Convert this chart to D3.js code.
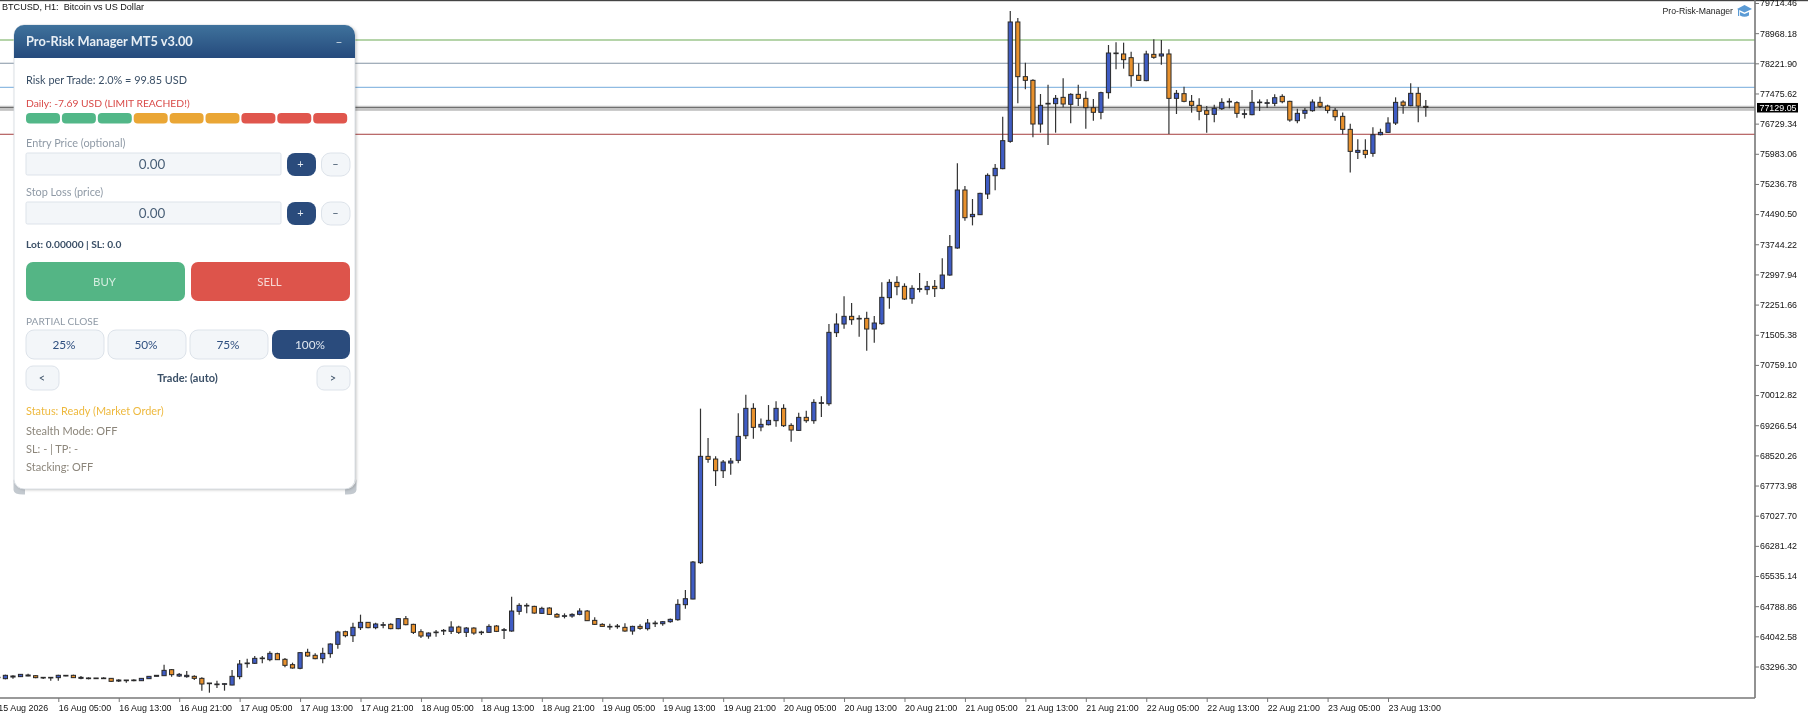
<!DOCTYPE html>
<html>
<head>
<meta charset="utf-8">
<script src="https://cdn.jsdelivr.net/npm/d3@7"></script>
<style>
html, body { margin: 0; padding: 0; background: #fff; overflow: hidden; }
svg { display: block; filter: blur(0.35px); }
text { font-family: Lato, sans-serif; }
.axis text { font-family: "Liberation Sans", sans-serif; font-size: 8.9px; fill: #111; }
.axis path, .axis line { stroke: #777; }
</style>
</head>
<body>
<svg id="chart" width="1808" height="714"></svg>
<script>
// hourly bars, one row per 8 bars (same spacing as the time labels)
var opens = [
  63020,62995,63036,63045,63061,63069,63012,63028,
  63020,63061,63078,63003,62995,63012,62995,63003,
  62937,62962,62945,62945,62995,63053,63069,63218,
  63061,63045,63053,63003,62888,62846,62855,62838,
  63045,63366,63375,63490,63465,63614,63474,63342,
  63251,63647,63573,63490,63614,63845,64158,64059,
  64257,64389,64257,64315,64340,64233,64479,64339,
  64157,64050,64133,64174,64166,64273,64141,64248,
  64149,64141,64298,64190,64174,64661,64793,64784,
  64611,64743,64586,64537,64545,64586,64669,64438,
  64339,64273,64281,64265,64174,64289,64232,64355,
  64355,64405,64454,64826,64966,65865,68496,68430,
  68141,68331,68397,69007,69684,69222,69280,69379,
  69684,69263,69139,69461,69379,69808,69799,71557,
  71771,71961,71895,71911,71647,71779,72423,72802,
  72703,72398,72629,72621,72703,72653,72983,73652,
  75087,74427,74476,74988,75441,75615,76291,79245,
  77892,77801,76720,77215,77223,77380,77207,77454,
  77355,77124,77009,77496,78461,78453,78362,77925,
  77793,78444,78403,78453,77355,77471,77281,77182,
  77050,76959,77100,77265,77248,76959,76951,77248,
  77231,77231,77404,77281,76802,76984,77050,77256,
  77165,77058,76909,76588,76018,76068,75994,76456,
  76513,76744,77264,77173,77479,77157
];
var highs = [
  63045,63094,63078,63110,63119,63078,63030,63030,
  63094,63086,63094,63061,63028,63012,63028,63012,
  62978,62962,62978,63012,63061,63078,63342,63234,
  63135,63185,63078,63028,62888,62945,62880,63210,
  63457,63490,63556,63556,63672,63638,63506,63391,
  63647,63738,63622,63762,63870,64183,64183,64381,
  64579,64398,64381,64398,64365,64497,64545,64355,
  64215,64141,64199,64223,64413,64306,64273,64265,
  64182,64339,64322,64248,65024,64859,64859,64801,
  64776,64760,64619,64611,64611,64735,64694,64512,
  64364,64355,64347,64364,64306,64339,64471,64430,
  64421,64487,64958,65189,65906,69677,68950,68496,
  68405,68455,69560,70022,69808,69436,69766,69857,
  69783,69313,69577,69626,69907,69981,71771,72035,
  72456,72291,71986,72076,71969,72802,72877,72951,
  72778,72728,73033,72835,72860,73396,73973,75747,
  75186,74864,75021,75499,75730,76902,79517,79344,
  78238,77826,77463,77694,77438,77850,77479,77694,
  77529,77339,77520,78675,78741,78733,78510,78222,
  78535,78816,78799,78568,77562,77644,77438,77355,
  77166,77199,77355,77355,77281,77083,77562,77330,
  77330,77454,77454,77297,77099,77116,77330,77396,
  77198,77116,77008,76728,76340,76340,76637,76604,
  76885,77380,77305,77726,77627,77314
];
var lows = [
  63010,62979,62995,63036,63053,63003,62987,62945,
  62945,63053,63012,62978,62978,62995,62995,62912,
  62912,62896,62929,62945,62987,63053,63061,63045,
  63036,63020,62962,62698,62648,62764,62698,62830,
  62978,63267,63358,63375,63424,63457,63276,63243,
  63226,63540,63474,63375,63515,63738,64018,63903,
  64200,64241,64216,64241,64216,64216,64314,64100,
  64001,63984,64034,64075,64100,64100,64025,64083,
  64075,64133,64149,63976,64157,64578,64611,64603,
  64595,64570,64504,64487,64504,64562,64421,64322,
  64273,64207,64232,64157,64083,64207,64190,64273,
  64306,64380,64430,64727,64958,65832,68339,67762,
  67960,68042,68323,68925,68933,69115,69263,69230,
  69222,68859,69123,69329,69304,69469,69750,71449,
  71656,71755,71458,71111,71309,71755,72151,72481,
  72365,72274,72555,72497,72439,72629,72967,73635,
  74328,74212,74468,74864,75078,75598,76258,77232,
  77578,76390,76506,76200,76506,77133,76737,77166,
  76605,76803,76836,77347,78073,78090,77644,77793,
  77776,78337,78189,76473,76968,77256,77001,76811,
  76506,76761,77067,77108,76877,76860,76935,77041,
  77116,77157,77231,76777,76736,76852,77025,77116,
  76984,76802,76464,75523,75853,75870,75911,76439,
  76505,76695,76975,77157,76761,76901
];
var closes = [
  63030,63078,63061,63102,63086,63020,63028,63012,
  63078,63078,63020,63028,63012,62995,63012,62929,
  62962,62945,62962,63003,63053,63078,63201,63094,
  63102,63078,63003,62863,62871,62863,62871,63053,
  63358,63383,63498,63506,63622,63465,63325,63259,
  63639,63556,63490,63622,63853,64150,64059,64266,
  64389,64257,64348,64332,64233,64480,64331,64141,
  64050,64124,64149,64190,64273,64141,64248,64124,
  64133,64289,64166,64207,64669,64809,64809,64619,
  64735,64586,64520,64553,64586,64669,64430,64339,
  64289,64289,64298,64174,64289,64240,64372,64372,
  64405,64463,64834,64974,65882,68497,68422,68141,
  68356,68380,68991,69684,69214,69288,69387,69684,
  69255,69148,69461,69379,69832,69824,71565,71771,
  71961,71878,71911,71647,71796,72431,72802,72695,
  72390,72654,72646,72703,72646,72983,73685,75087,
  74402,74484,75004,75450,75623,76308,79245,77892,
  77801,76720,77182,77232,77355,77215,77454,77355,
  77124,77009,77496,78477,78477,78312,77916,77801,
  78453,78370,78453,77355,77479,77281,77182,77034,
  76959,77108,77256,77281,76984,76976,77256,77264,
  77248,77371,77272,76819,76984,77058,77264,77157,
  77058,76901,76588,76043,76068,75969,76456,76513,
  76744,77256,77182,77479,77165,77129
];
var timeLabels = [
  '15 Aug 2026','16 Aug 05:00','16 Aug 13:00','16 Aug 21:00','17 Aug 05:00','17 Aug 13:00',
  '17 Aug 21:00','18 Aug 05:00','18 Aug 13:00','18 Aug 21:00','19 Aug 05:00','19 Aug 13:00',
  '19 Aug 21:00','20 Aug 05:00','20 Aug 13:00','20 Aug 21:00','21 Aug 05:00','21 Aug 13:00',
  '21 Aug 21:00','22 Aug 05:00','22 Aug 13:00','22 Aug 21:00','23 Aug 05:00','23 Aug 13:00'
];
var priceTicks = [
  79714.46,78968.18,78221.90,77475.62,76729.34,75983.06,75236.78,74490.50,
  73744.22,72997.94,72251.66,71505.38,70759.10,70012.82,69266.54,68520.26,
  67773.98,67027.70,66281.42,65535.14,64788.86,64042.58,63296.30
];
var levelPrices = [78799, 78222, 77629, 76466];
var levelColors = ['#9cc68c', '#8594a4', '#8fbbe2', '#a63f3f'];
var levelWidths = [1.5, 1.1, 1.3, 1];
var lastPrice = 77129.05;
var bandPrices = [77129, 77067];
var riskColors = ['#52b788','#52b788','#52b788','#eaa635','#eaa635','#eaa635','#e0564d','#e0564d','#e0564d'];
var partialLabels = ['25%', '50%', '75%', '100%'];

var W = 1808, H = 714, axisX = 1755, axisY = 698;
var svg = d3.select('#chart');

var x = d3.scaleLinear().domain([0, opens.length - 1]).range([-2.14, 1425.8]);
var y = d3.scaleLinear().domain([63296.30, 79714.46]).range([666.5, 3]);

// top border
svg.append('rect').attr('x', 0).attr('y', 0).attr('width', W).attr('height', 1.2).attr('fill', '#444');

// price levels
var lv = svg.append('g');
lv.append('rect').attr('x', 0).attr('width', axisX).attr('y', y(bandPrices[0]) - 2).attr('height', 5).attr('fill', '#e2e2e2');
lv.append('line').attr('x1', 0).attr('x2', axisX).attr('y1', y(bandPrices[0])).attr('y2', y(bandPrices[0])).attr('stroke', '#6f6f6f').attr('stroke-width', 1.3);
lv.append('line').attr('x1', 0).attr('x2', axisX).attr('y1', y(bandPrices[1])).attr('y2', y(bandPrices[1])).attr('stroke', '#a5a5a5').attr('stroke-width', 1);
lv.selectAll('.level').data(levelPrices).enter().append('line')
  .attr('class', 'level')
  .attr('x1', 0).attr('x2', axisX)
  .attr('y1', function(d){ return y(d); }).attr('y2', function(d){ return y(d); })
  .attr('stroke', function(d, i){ return levelColors[i]; })
  .attr('stroke-width', function(d, i){ return levelWidths[i]; });

// candles
var bars = svg.append('g').selectAll('g').data(d3.range(opens.length)).enter().append('g');
bars.append('line')
  .attr('x1', function(i){ return x(i); }).attr('x2', function(i){ return x(i); })
  .attr('y1', function(i){ return y(highs[i]); }).attr('y2', function(i){ return y(lows[i]); })
  .attr('stroke', '#333').attr('stroke-width', 1.2);
bars.append('rect')
  .attr('x', function(i){ return x(i) - 2.1; })
  .attr('width', 4.2)
  .attr('y', function(i){ return y(Math.max(opens[i], closes[i])); })
  .attr('height', function(i){ return Math.abs(y(opens[i]) - y(closes[i])); })
  .attr('fill', function(i){ return closes[i] >= opens[i] ? '#3f5cc4' : '#e8912d'; })
  .attr('stroke', '#2a2a2a').attr('stroke-width', 1);

// axes
var axisR = svg.append('g').attr('class', 'axis').attr('transform', 'translate(' + axisX + ',0)')
  .call(d3.axisRight(y).tickValues(priceTicks).tickFormat(d3.format('.2f')).tickSize(4).tickPadding(1));
axisR.select('.domain').attr('d', 'M0,0V' + axisY).attr('stroke-width', 1.6);

var axisB = svg.append('g').attr('class', 'axis').attr('transform', 'translate(0,' + axisY + ')')
  .call(d3.axisBottom(x).tickValues(timeLabels.map(function(d, i){ return i * 8; }))
    .tickFormat(function(d){ return timeLabels[d / 8]; }).tickSize(4).tickPadding(2));
axisB.select('.domain').attr('d', 'M0,0H' + axisX).attr('stroke-width', 1.6);
axisB.selectAll('text').attr('text-anchor', 'start').attr('dy', '0.75em');

// current price tag
svg.append('rect').attr('x', 1757).attr('y', y(lastPrice) - 4.5).attr('width', 41).attr('height', 9.5).attr('fill', '#000');
svg.append('text').attr('x', 1759.5).attr('y', y(lastPrice) + 3.4)
  .style('font-family', '"Liberation Sans", sans-serif').style('font-size', '8.9px').attr('fill', '#fff').text(lastPrice.toFixed(2));

// chart captions
function label(sel, tx, ty, txt, size, color, weight, anchor) {
  return sel.append('text').attr('x', tx).attr('y', ty).attr('dy', '0.35em')
    .attr('text-anchor', anchor || 'start')
    .style('font-size', size + 'px').style('font-weight', weight || 400).attr('fill', color).text(txt);
}
label(svg, 2, 7, 'BTCUSD, H1:  Bitcoin vs US Dollar', 9.1, '#111').style('font-family', '"Liberation Sans", sans-serif').style('white-space', 'pre');
label(svg, 1733, 11, 'Pro-Risk-Manager', 8.7, '#222', 400, 'end').style('font-family', '"Liberation Sans", sans-serif');

// graduation cap
var cap = svg.append('g').attr('fill', '#5b9bd5');
cap.append('path').attr('d', 'M1737 9 L1744.5 5 L1752 9 L1744.5 12.5 Z');
cap.append('path').attr('d', 'M1740 12 L1744.5 14 L1749 12 L1749 15.5 Q1744.5 18 1740 15.5 Z');
cap.append('rect').attr('x', 1738).attr('y', 9).attr('width', 1.2).attr('height', 7);

// risk panel
var defs = svg.append('defs');
var grad = defs.append('linearGradient').attr('id', 'hdr').attr('x1', 0).attr('x2', 0).attr('y1', 0).attr('y2', 1);
grad.append('stop').attr('offset', '0%').attr('stop-color', '#3f729c');
grad.append('stop').attr('offset', '100%').attr('stop-color', '#254a7c');
var sh = defs.append('filter').attr('id', 'shadow').attr('x', '-5%').attr('y', '-5%').attr('width', '110%').attr('height', '110%');
sh.append('feDropShadow').attr('dx', 1.5).attr('dy', 1).attr('stdDeviation', 1.6).attr('flood-color', '#000').attr('flood-opacity', 0.22);

var p = svg.append('g');
// grey corner wedges under the panel
p.append('path').attr('d', 'M13.5 479 V490 Q14 495 25 494.5 L25 489 Q15 489 13.5 479 Z').attr('fill', '#c3c9cf');
p.append('path').attr('d', 'M356.5 479 V490 Q356 495 345 494.5 L345 489 Q355 489 356.5 479 Z').attr('fill', '#c3c9cf');
p.append('rect').attr('x', 14).attr('y', 25).attr('width', 341).attr('height', 464).attr('rx', 10).attr('fill', '#fff').attr('filter', 'url(#shadow)');
p.append('rect').attr('x', 14).attr('y', 25).attr('width', 341).attr('height', 464).attr('rx', 10).attr('fill', 'none').attr('stroke', '#d3d9df').attr('stroke-width', 0.8);
p.append('path').attr('d', 'M14 58 V35 A10 10 0 0 1 24 25 H345 A10 10 0 0 1 355 35 V58 Z').attr('fill', 'url(#hdr)');
label(p, 26, 42, 'Pro-Risk Manager MT5 v3.00', 12.8, '#e9eff5', 700);
label(p, 339, 42, '\u2013', 12, '#dfe7ee', 400, 'middle');

var textDark = '#3a4f66', textMuted = '#8f9aa6', navy = '#2a4b7c', pale = '#f3f6f9', edge = '#dde3ea';
label(p, 26, 80, 'Risk per Trade: 2.0% = 99.85 USD', 10.9, textDark);
label(p, 26, 103, 'Daily: -7.69 USD (LIMIT REACHED!)', 10.3, '#d94a48');
p.selectAll('.seg').data(riskColors).enter().append('rect')
  .attr('class', 'seg')
  .attr('x', function(d, i){ return 26 + i * 35.9; }).attr('y', 113)
  .attr('width', 34).attr('height', 10.5).attr('rx', 4).attr('fill', function(d){ return d; });

function box(sel, bx, by, bw, bh, r, fill, stroke) {
  return sel.append('rect').attr('x', bx).attr('y', by).attr('width', bw).attr('height', bh).attr('rx', r)
    .attr('fill', fill).attr('stroke', stroke || 'none').attr('stroke-width', stroke ? 1 : 0);
}
function priceField(title, ty, by) {
  label(p, 26, ty, title, 10.9, textMuted);
  box(p, 26, by, 255, 22, 1.5, pale, edge);
  label(p, 152, by + 11, '0.00', 13.4, '#4a6078', 400, 'middle');
  box(p, 287, by, 29, 23, 8, navy);
  label(p, 300.5, by + 11.5, '+', 11, '#e6ecf3', 400, 'middle');
  box(p, 321.5, by, 28.5, 23, 9, pale, edge);
  label(p, 335.5, by + 11.5, '\u2013', 11, '#3a4f66', 400, 'middle');
}
priceField('Entry Price (optional)', 143, 153);
priceField('Stop Loss (price)', 192, 202);
label(p, 26, 244, 'Lot: 0.00000 | SL: 0.0', 10.2, '#3a4f66', 700);

box(p, 26, 262, 159, 39, 7, '#54b585');
label(p, 104.5, 282, 'BUY', 11.4, '#d5eee0', 400, 'middle');
box(p, 191, 262, 159, 39, 7, '#dd544b');
label(p, 269.5, 282, 'SELL', 11.4, '#f8d8d5', 400, 'middle');

label(p, 26, 321, 'PARTIAL CLOSE', 10.1, textMuted);
partialLabels.forEach(function(d, i){
  var bx = 26 + i * 82, last = i === partialLabels.length - 1;
  box(p, bx, 330, 78, 29, 8, last ? navy : pale, last ? null : edge);
  label(p, bx + 38, 345, d, 11.8, last ? '#dfe6ef' : '#2f5080', 400, 'middle');
});
box(p, 26, 366, 33, 24, 7, pale, edge);
label(p, 42, 378, '<', 11, '#3a4f66', 400, 'middle');
box(p, 317, 366, 33, 24, 7, pale, edge);
label(p, 333, 378, '>', 11, '#3a4f66', 400, 'middle');
label(p, 187.5, 378.5, 'Trade: (auto)', 11, '#3a4f66', 700, 'middle');

label(p, 26, 411, 'Status: Ready (Market Order)', 10.9, '#eeb93e');
label(p, 26, 431, 'Stealth Mode: OFF', 11, '#8c867b');
label(p, 26, 449.5, 'SL: - | TP: -', 11, '#8c867b');
label(p, 26, 467.5, 'Stacking: OFF', 11, '#8c867b');
</script>
</body>
</html>
